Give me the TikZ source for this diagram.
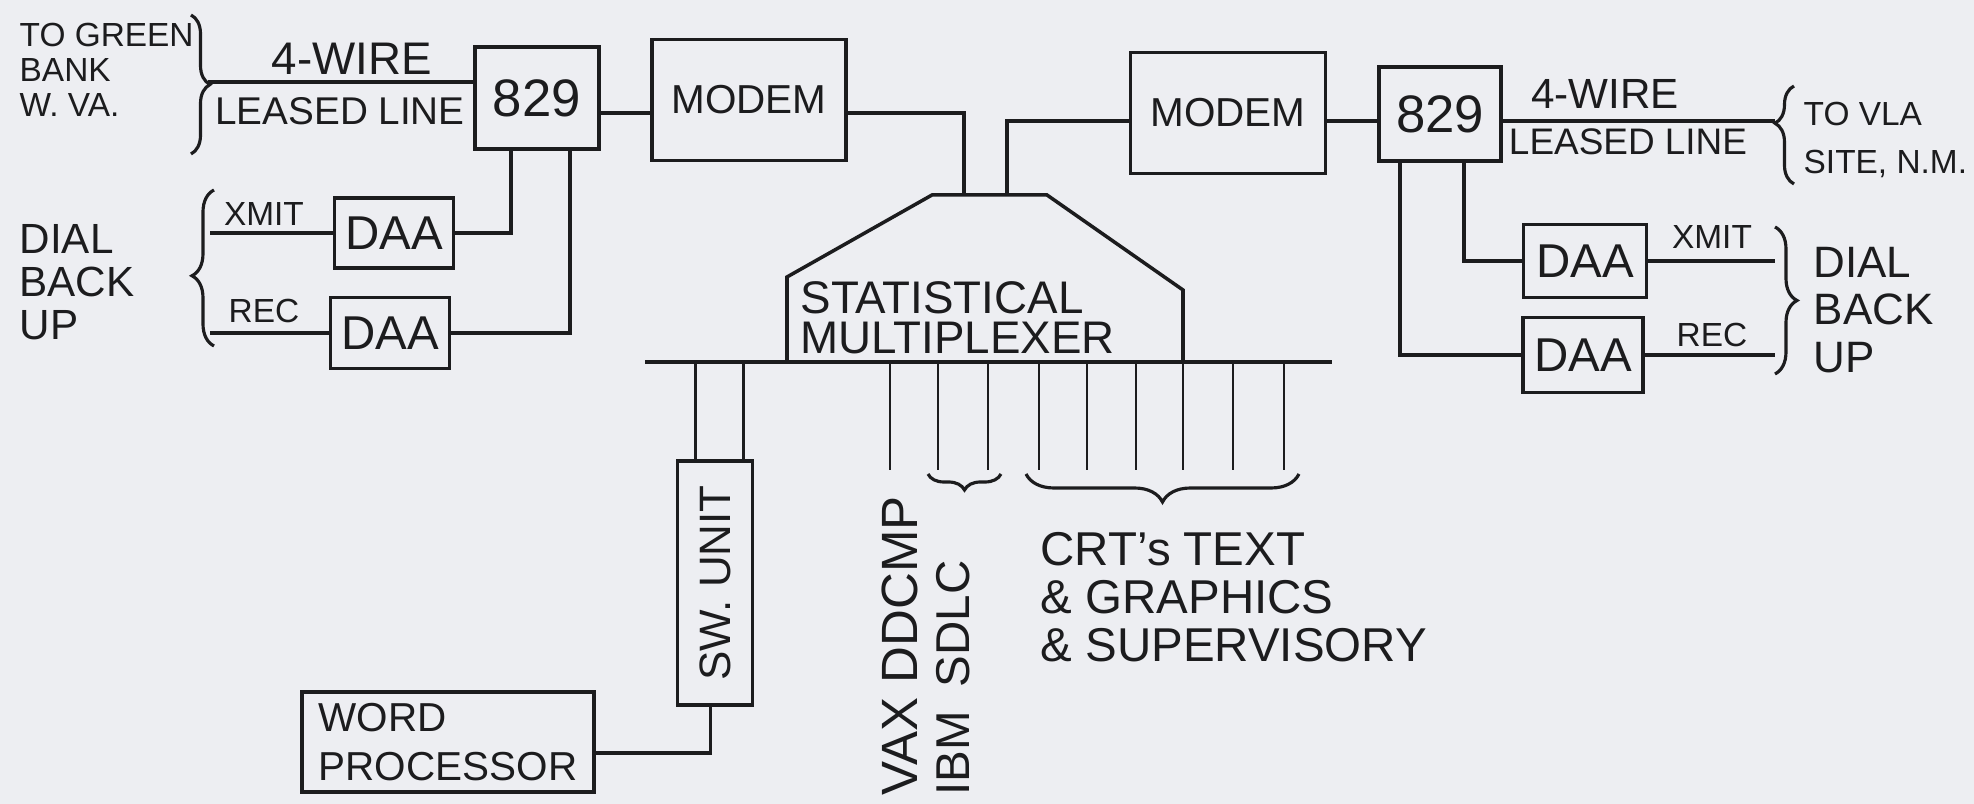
\documentclass[tikz,border=0pt]{standalone}
\usepackage{fontspec}
\setmainfont{Liberation Sans}
\usetikzlibrary{decorations.pathreplacing}
\definecolor{paper}{RGB}{237,238,242}
\definecolor{ink}{RGB}{28,28,30}
\tikzset{
  box/.style={draw=ink, line width=1.1pt, inner sep=0pt, text=ink},
  wire/.style={draw=ink, line width=1pt},
  thin/.style={draw=ink, line width=0.8pt},
  lbl/.style={text=ink, inner sep=0pt},
  brc/.style={draw=ink, line width=0.9pt, decorate},
}
\begin{document}
\begin{tikzpicture}[x=0.01cm, y=-0.01cm]
    \fill[paper, use as bounding box] (0,0) rectangle (1974,804);

    % left side
    \node[box, minimum width=1.24cm, minimum height=1.02cm, font=\fontsize{15}{17}\selectfont] (l829) at (537,98) {829};
    \node[box, minimum width=1.94cm, minimum height=1.21cm, font=\fontsize{11.5}{13}\selectfont] (lmodem) at (749,100) {MODEM};
    \node[box, minimum width=1.19cm, minimum height=0.70cm, font=\fontsize{13.5}{15}\selectfont] (ldaa1) at (394,233) {DAA};
    \node[box, minimum width=1.19cm, minimum height=0.71cm, font=\fontsize{13.5}{15}\selectfont] (ldaa2) at (390,333) {DAA};

    % right side
    \node[box, minimum width=1.95cm, minimum height=1.21cm, font=\fontsize{11.5}{13}\selectfont] (rmodem) at (1228,113) {MODEM};
    \node[box, minimum width=1.22cm, minimum height=0.94cm, font=\fontsize{15}{17}\selectfont] (r829) at (1440,114) {829};
    \node[box, minimum width=1.23cm, minimum height=0.73cm, font=\fontsize{13.5}{15}\selectfont] (rdaa1) at (1585,261) {DAA};
    \node[box, minimum width=1.20cm, minimum height=0.75cm, font=\fontsize{13.5}{15}\selectfont] (rdaa2) at (1583,355) {DAA};

    % lower side
    \node[box, minimum width=0.75cm, minimum height=2.44cm, font=\fontsize{12.5}{14}\selectfont] (sw) at (715,583) {\rotatebox{90}{SW. UNIT}};
    \node[box, minimum width=2.91cm, minimum height=1.00cm, align=left, font=\fontsize{11.5}{14}\selectfont] (wp) at (448,742) {WORD\\PROCESSOR};

    % multiplexer and bus
    \coordinate (mxl) at (787,277);
    \coordinate (mxtl) at (932,195);
    \coordinate (mxtr) at (1047,195);
    \coordinate (mxr) at (1183,290);
    \coordinate (busw) at (645,362);
    \coordinate (buse) at (1332,362);
    \draw[wire] (mxl |- busw) -- (mxl) -- (mxtl) -- (mxtr) -- (mxr) -- (mxr |- busw);
    \draw[wire] (busw) -- (buse);
    \node[lbl, anchor=west, align=left, font=\fontsize{13}{11.5}\selectfont] (mux) at (800,318) {STATISTICAL\\MULTIPLEXER};

    % leased lines
    \coordinate (mxin1) at (964,195);
    \coordinate (mxin2) at (1007,195);
    \coordinate (lline) at (0,113);
    \coordinate (rline) at (1775,121);
    \coordinate (gline) at (208,82);
    \draw[wire] (gline) -- (l829.west |- gline);
    \draw[wire] (l829.east |- lline) -- (lmodem.west |- lline);
    \draw[wire] (lmodem.east |- lline) -| (mxin1);
    \draw[wire] (rmodem.west |- rline) -| (mxin2);
    \draw[wire] (rmodem.east |- rline) -- (r829.west |- rline);
    \draw[wire] (r829.east |- rline) -- (rline);

    % dial back up, left
    \coordinate (l829a) at ([xshift=-0.26cm]l829.south);
    \coordinate (l829b) at ([xshift=0.33cm]l829.south);
    \coordinate (lstub) at (210,0);
    \draw[wire] (ldaa1.east) -| (l829a);
    \draw[wire] (ldaa2.east) -| (l829b);
    \draw[wire] (ldaa1.west) -- (ldaa1.west -| lstub);
    \draw[wire] (ldaa2.west) -- (ldaa2.west -| lstub);

    % dial back up, right
    \coordinate (r829a) at ([xshift=-0.40cm]r829.south);
    \coordinate (r829b) at ([xshift=0.24cm]r829.south);
    \coordinate (rstub) at (1775,0);
    \draw[wire] (r829b) |- (rdaa1.west);
    \draw[wire] (r829a) |- (rdaa2.west);
    \draw[wire] (rdaa1.east) -- (rdaa1.east -| rstub);
    \draw[wire] (rdaa2.east) -- (rdaa2.east -| rstub);

    % switch unit and word processor
    \coordinate (swa) at ([xshift=-0.195cm]sw.north);
    \coordinate (swb) at ([xshift=0.285cm]sw.north);
    \coordinate (swc) at ([xshift=-0.045cm]sw.south);
    \draw[thin] (swa |- busw) -- (swa);
    \draw[thin] (swb |- busw) -- (swb);
    \draw[wire] (swc) |- ([yshift=-0.11cm]wp.east);

    % ports
    \foreach \x [count=\i] in {890,938,988,1039,1087,1136,1183,1233,1284} {
        \coordinate (drop\i) at (\x,470);
        \draw[thin] (drop\i |- busw) -- (drop\i);
    }

    % braces
    \draw[brc, decoration={brace, amplitude=0.19cm}] (191,15) -- (191,154);
    \draw[brc, decoration={brace, amplitude=0.22cm, aspect=0.45}] (214,346) -- (214,190);
    \draw[brc, decoration={brace, amplitude=0.19cm, aspect=0.62}] (1794,184) -- (1794,86);
    \draw[brc, decoration={brace, amplitude=0.22cm}] (1775,227) -- (1775,374);
    \draw[brc, decoration={brace, amplitude=0.16cm}] (1001,474) -- (928,474);
    \draw[brc, decoration={brace, amplitude=0.28cm}] (1299,474) -- (1026,474);

    % labels
    \node[lbl, anchor=west, align=left, font=\fontsize{9.5}{10}\selectfont] (gb) at (19,70) {TO GREEN\\BANK\\W. VA.};
    \node[lbl, font=\fontsize{13}{15}\selectfont] (gw4) at (352,59) {4-WIRE};
    \node[lbl, font=\fontsize{11}{13}\selectfont] (gll) at (340,111) {LEASED LINE};
    \node[lbl, anchor=west, align=left, font=\fontsize{12}{12.3}\selectfont] (ldb) at (19,282) {DIAL\\BACK\\UP};
    \node[lbl, font=\fontsize{9.5}{11}\selectfont] (lxm) at (264,214) {XMIT};
    \node[lbl, font=\fontsize{9.5}{11}\selectfont] (lrc) at (264,311) {REC};
    \node[lbl, font=\fontsize{12}{14}\selectfont] (vw4) at (1605,94) {4-WIRE};
    \node[lbl, font=\fontsize{10.5}{12}\selectfont] (vll) at (1628,142) {LEASED LINE};
    \node[lbl, anchor=west, align=left, font=\fontsize{9.5}{13.4}\selectfont] (vla) at (1803,140) {TO VLA\\SITE, N.M.};
    \node[lbl, font=\fontsize{9.5}{11}\selectfont] (rxm) at (1712,237) {XMIT};
    \node[lbl, font=\fontsize{9.5}{11}\selectfont] (rrc) at (1712,335) {REC};
    \node[lbl, anchor=west, align=left, font=\fontsize{12.5}{13.5}\selectfont] (rdb) at (1813,310) {DIAL\\BACK\\UP};
    \node[lbl, rotate=90, font=\fontsize{14.5}{16}\selectfont] (vax) at (900,646) {VAX DDCMP};
    \node[lbl, rotate=90, font=\fontsize{13.5}{15}\selectfont] (ibm) at (953,678) {IBM\enspace SDLC};
    \node[lbl, anchor=west, align=left, font=\fontsize{13.5}{13.7}\selectfont] (crt) at (1040,597) {CRT's TEXT\\\& GRAPHICS\\\& SUPERVISORY};
\end{tikzpicture}
\end{document}
